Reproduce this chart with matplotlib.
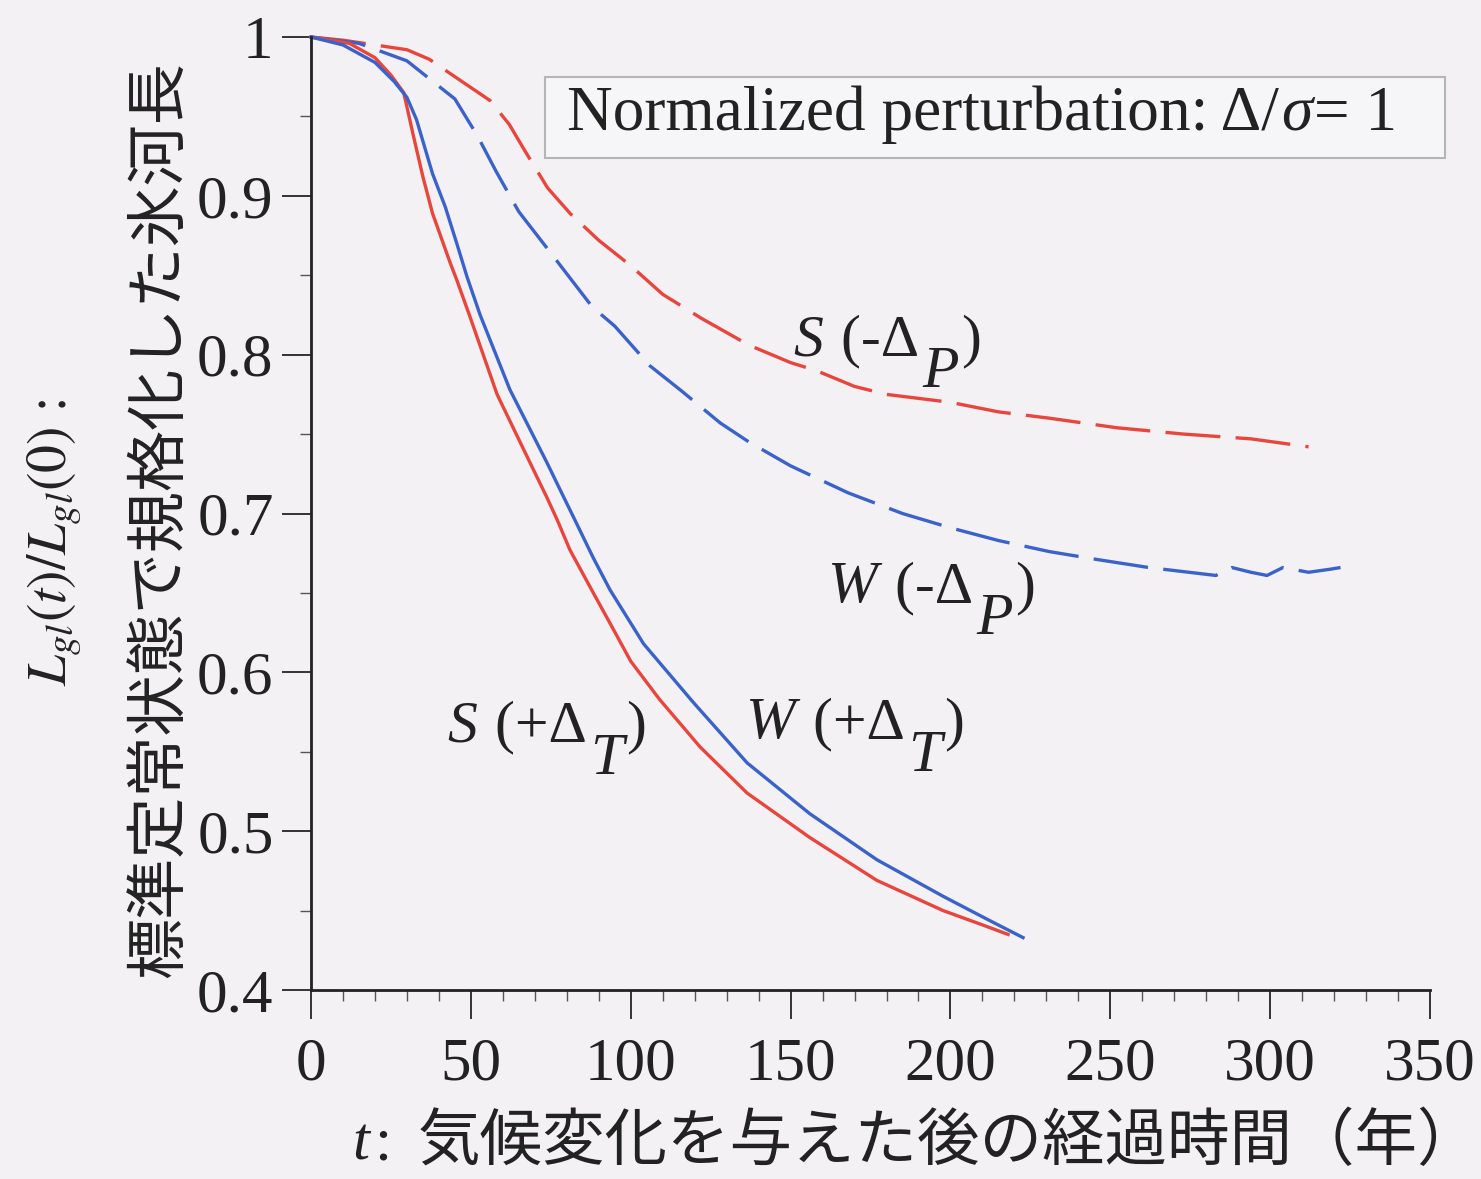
import matplotlib
matplotlib.use("Agg")
import matplotlib.pyplot as plt
from matplotlib.ticker import MultipleLocator, FixedLocator, FixedFormatter
from matplotlib.patches import Rectangle
from matplotlib.transforms import IdentityTransform

plt.rcParams['font.family'] = ['Liberation Serif', 'Noto Sans CJK JP', 'DejaVu Sans']
plt.rcParams['mathtext.fontset'] = 'stix'

# ---- data ----
t_S_temp = [0, 12, 20, 25, 29, 32, 35, 38, 43.5, 45.6, 49.7, 58.2, 68.5, 73.8, 77, 81,
            88.3, 93.5, 100, 109, 121.7, 136.4, 156, 177, 197.7, 210, 218]
L_S_temp = [1.0, 0.996, 0.987, 0.976, 0.965, 0.938, 0.912, 0.889, 0.858, 0.847, 0.824, 0.775,
            0.732, 0.710, 0.696, 0.677, 0.650, 0.631, 0.607, 0.583, 0.553, 0.524, 0.496,
            0.469, 0.450, 0.441, 0.435]

t_W_temp = [0, 10, 20, 26, 30, 33, 38, 42, 45.6, 48.8, 52.9, 62.2, 73.8, 77.9, 83, 88.3,
            93.5, 104, 119.6, 136.4, 156, 177, 197.7, 212, 222.7]
L_W_temp = [1.0, 0.995, 0.984, 0.972, 0.962, 0.948, 0.914, 0.893, 0.870, 0.849, 0.825, 0.778,
            0.732, 0.715, 0.694, 0.672, 0.652, 0.618, 0.581, 0.543, 0.511, 0.482, 0.459,
            0.444, 0.433]

t_S_prec = [0, 10, 20, 30, 37, 45, 56, 62, 67, 74, 81, 90, 100, 110, 122, 137, 150, 158,
            170, 180, 200, 215, 231, 252, 273, 294, 312]
L_S_prec = [1.0, 0.998, 0.995, 0.992, 0.986, 0.975, 0.960, 0.945, 0.928, 0.905, 0.889, 0.872,
            0.856, 0.838, 0.823, 0.806, 0.795, 0.790, 0.780, 0.775, 0.770, 0.764, 0.760,
            0.754, 0.750, 0.747, 0.742]

t_W_prec = [0, 15, 30, 40, 45, 52, 58, 65, 75, 88, 95, 106, 116, 128, 137, 150, 168, 185,
            200, 215, 231, 246, 262, 283, 288, 294, 299, 304, 312, 319, 322]
L_W_prec = [1.0, 0.996, 0.985, 0.969, 0.961, 0.938, 0.915, 0.890, 0.864, 0.830, 0.818, 0.793,
            0.777, 0.757, 0.745, 0.730, 0.713, 0.700, 0.691, 0.683, 0.676, 0.671, 0.666,
            0.661, 0.666, 0.663, 0.661, 0.666, 0.663, 0.665, 0.666]

y_ticks = [0.4, 0.5, 0.6, 0.7, 0.8, 0.9, 1.0]
y_ticklabels = ['0.4', '0.5', '0.6', '0.7', '0.8', '0.9', '1']
x_ticks = [0, 50, 100, 150, 200, 250, 300, 350]

RED = '#e8453c'
BLUE = '#3a62c9'
BG = '#f3f1f4'
TXT = '#222222'

W_PX, H_PX = 1481, 1179
fig = plt.figure(figsize=(W_PX / 100, H_PX / 100), dpi=100, facecolor=BG)
ax = fig.add_axes([0.21, 0.1603, 0.7556, 0.8083])
ax.set_facecolor(BG)

lw = 2.4
ax.plot(t_S_prec, L_S_prec, color=RED, lw=lw, ls=(0, (16.5, 4.6)), clip_on=False)
ax.plot(t_W_prec, L_W_prec, color=BLUE, lw=lw, ls=(0, (16.5, 4.6)), clip_on=False)
ax.plot(t_S_temp, L_S_temp, color=RED, lw=lw, clip_on=False)
ax.plot(t_W_temp, L_W_temp, color=BLUE, lw=lw, clip_on=False)

ax.set_xlim(0, 350)
ax.set_ylim(0.4, 1.0)
for s in ['top', 'right']:
    ax.spines[s].set_visible(False)
for s in ['left', 'bottom']:
    ax.spines[s].set_linewidth(2.0)
    ax.spines[s].set_color(TXT)

ax.xaxis.set_major_locator(FixedLocator(x_ticks))
ax.xaxis.set_minor_locator(MultipleLocator(10))
ax.yaxis.set_major_locator(FixedLocator(y_ticks))
ax.yaxis.set_major_formatter(FixedFormatter(y_ticklabels))
ax.yaxis.set_minor_locator(MultipleLocator(0.05))
ax.tick_params(which='major', direction='out', length=21, width=1.4, color='#333333',
               labelsize=44, labelcolor=TXT)
ax.tick_params(which='minor', direction='out', length=8, width=1.0, color='#555555')
ax.tick_params(axis='x', which='major', pad=13)
ax.tick_params(axis='y', which='major', pad=6)

renderer = fig.canvas.get_renderer()


def chain(x_px, baseline_py, pieces, fs, gap=0):
    """Place text pieces one after another; positions in image pixels (from top)."""
    x = x_px
    y0 = H_PX - baseline_py
    for txt, style, drop in pieces:
        t = fig.text(x, y0 - drop, txt, transform=IdentityTransform(), fontsize=fs,
                     style=style, color=TXT, va='baseline', ha='left', zorder=5)
        bb = t.get_window_extent(renderer)
        x = bb.x1 + gap


# legend-like box
ax.add_patch(Rectangle((73.2, 0.9238), 281.5, 0.051, transform=ax.transData,
                       facecolor='#f6f5f7', edgecolor='#b5b5b5', lw=1.5, clip_on=False, zorder=1))
chain(567, 130, [('Normalized perturbation: Δ/', 'normal', 0), ('σ', 'italic', 0),
                 ('= 1', 'normal', 0)], 45.5, gap=2)

# curve labels
FS_LAB = 43
chain(793, 355, [('S', 'italic', 0), (' (-Δ', 'normal', 0), ('P', 'italic', 32),
                 (')', 'normal', 0)], FS_LAB, gap=3)
chain(827, 602, [('W', 'italic', 0), (' (-Δ', 'normal', 0), ('P', 'italic', 32),
                 (')', 'normal', 0)], FS_LAB, gap=3)
chain(447, 741, [('S', 'italic', 0), (' (+Δ', 'normal', 0), ('T', 'italic', 33),
                 (')', 'normal', 0)], FS_LAB, gap=3)
chain(745, 738, [('W', 'italic', 0), (' (+Δ', 'normal', 0), ('T', 'italic', 33),
                 (')', 'normal', 0)], FS_LAB, gap=3)

# x axis label
chain(352, 1160, [('t', 'italic', 0), (':', 'normal', 0)], 44, gap=5)
fig.text(418 / W_PX, 1 - 1142 / H_PX, '気候変化を与えた後の経過時間（年）', fontsize=45,
         family=['Noto Sans CJK JP'], ha='left', va='center', color=TXT)

# y axis label (two lines)
fig.text(0.108, 0.559, '標準定常状態で規格化した氷河長', fontsize=44, rotation=90,
         family=['Noto Sans CJK JP'], ha='center', va='center', color=TXT)
fig.text(0.037, 0.540, r'$L_{gl}(t)/L_{gl}(0)$ :', fontsize=40, rotation=90,
         ha='center', va='center', color=TXT)

fig.savefig('out.png', dpi=100, facecolor=BG)
